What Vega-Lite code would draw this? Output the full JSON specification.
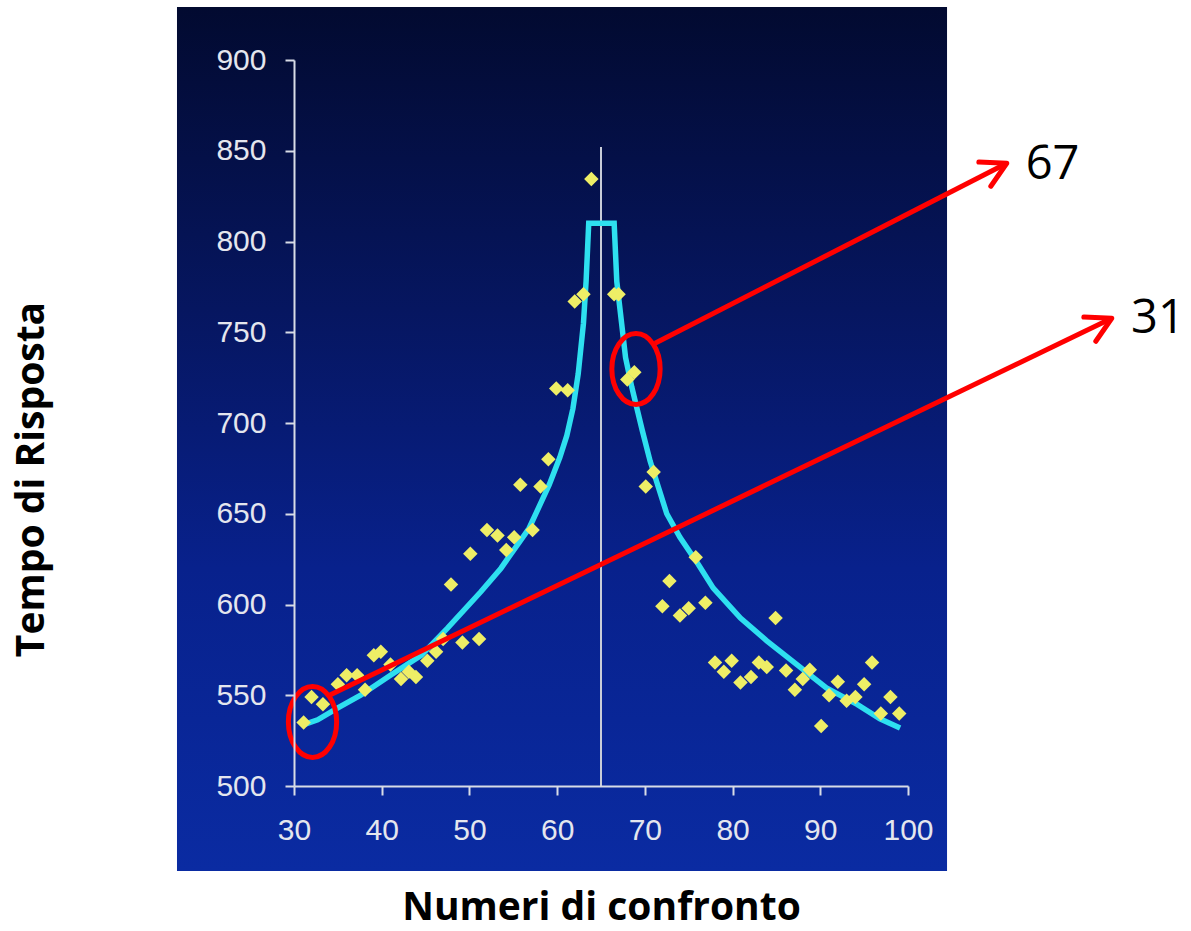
{
  "$schema": "https://vega.github.io/schema/vega-lite/v6.json",
  "autosize": {"type": "none"},
  "padding": {"left": 294, "top": 60, "right": 283, "bottom": 145},
  "width": 614,
  "height": 726,
  "background": "#ffffff",
  "config": {"view": {"stroke": null}},
  "datasets": {
    "panel": [{"x": 16.66, "x2": 104.45, "y": 453.2, "y2": 929.2}],
    "divider": [{"x": 65, "y": 500, "y2": 852}],
    "curve": [
      {"x": 31.2, "y": 534}, {"x": 32.7, "y": 536.5}, {"x": 35.0, "y": 543}, {"x": 37.6, "y": 550},
      {"x": 41.0, "y": 561}, {"x": 44.5, "y": 572}, {"x": 47.5, "y": 587}, {"x": 51.3, "y": 607},
      {"x": 53.6, "y": 620}, {"x": 56.8, "y": 642}, {"x": 59.1, "y": 666}, {"x": 60.3, "y": 681},
      {"x": 61.1, "y": 693}, {"x": 61.8, "y": 708}, {"x": 62.4, "y": 727}, {"x": 63.0, "y": 755},
      {"x": 63.3, "y": 778}, {"x": 63.6, "y": 810}, {"x": 66.5, "y": 810}, {"x": 66.8, "y": 778},
      {"x": 67.8, "y": 736}, {"x": 68.5, "y": 720}, {"x": 69.7, "y": 696}, {"x": 70.6, "y": 679},
      {"x": 72.5, "y": 650}, {"x": 74.0, "y": 637}, {"x": 76.1, "y": 622}, {"x": 77.8, "y": 609},
      {"x": 80.9, "y": 592.5}, {"x": 83.9, "y": 580}, {"x": 87.3, "y": 567}, {"x": 90.7, "y": 554},
      {"x": 94.2, "y": 545}, {"x": 96.8, "y": 537}, {"x": 99.1, "y": 532}
    ],
    "trials": [
      {"x": 31.1, "y": 535}, {"x": 32.0, "y": 549}, {"x": 33.3, "y": 545}, {"x": 35.0, "y": 556},
      {"x": 36.0, "y": 561}, {"x": 37.2, "y": 561}, {"x": 38.1, "y": 553}, {"x": 39.1, "y": 572},
      {"x": 39.9, "y": 574}, {"x": 41.0, "y": 567}, {"x": 42.2, "y": 559}, {"x": 43.1, "y": 563},
      {"x": 43.9, "y": 560}, {"x": 45.2, "y": 569}, {"x": 46.2, "y": 574}, {"x": 47.0, "y": 581},
      {"x": 47.9, "y": 611}, {"x": 49.2, "y": 579}, {"x": 50.1, "y": 628}, {"x": 51.1, "y": 581},
      {"x": 52.0, "y": 641}, {"x": 53.2, "y": 638}, {"x": 54.2, "y": 630}, {"x": 55.1, "y": 637},
      {"x": 55.8, "y": 666}, {"x": 57.2, "y": 641}, {"x": 58.1, "y": 665}, {"x": 59.0, "y": 680},
      {"x": 59.9, "y": 719}, {"x": 61.2, "y": 718}, {"x": 62.0, "y": 767}, {"x": 63.0, "y": 771},
      {"x": 63.9, "y": 834.5}, {"x": 66.5, "y": 771}, {"x": 67.0, "y": 771}, {"x": 68.0, "y": 724},
      {"x": 68.8, "y": 728}, {"x": 70.1, "y": 665}, {"x": 71.0, "y": 673}, {"x": 72.0, "y": 599},
      {"x": 72.8, "y": 613}, {"x": 74.0, "y": 594}, {"x": 75.0, "y": 598}, {"x": 75.8, "y": 626},
      {"x": 76.9, "y": 601}, {"x": 78.0, "y": 568}, {"x": 79.0, "y": 563}, {"x": 79.9, "y": 569},
      {"x": 80.9, "y": 557}, {"x": 82.1, "y": 560}, {"x": 83.0, "y": 568}, {"x": 83.9, "y": 565.5},
      {"x": 84.9, "y": 592.5}, {"x": 86.1, "y": 563.6}, {"x": 87.1, "y": 553}, {"x": 88.0, "y": 559},
      {"x": 88.8, "y": 564}, {"x": 90.1, "y": 533}, {"x": 91.0, "y": 550}, {"x": 92.0, "y": 557.5},
      {"x": 93.0, "y": 547}, {"x": 94.0, "y": 549}, {"x": 95.0, "y": 556}, {"x": 95.9, "y": 568},
      {"x": 96.9, "y": 540}, {"x": 98.0, "y": 549}, {"x": 99.0, "y": 540}
    ],
    "circles": [{"x": 32.11, "y": 535.3}, {"x": 68.99, "y": 729.8}],
    "arrows": [
      {"x": 71.16, "y": 743.9, "x2": 111.26, "y2": 843.1},
      {"x": 34.10, "y": 550.1, "x2": 123.23, "y2": 757.7}
    ],
    "heads": [{"x": 111.26, "y": 843.1}, {"x": 123.23, "y": 757.7}],
    "labels": [{"x": 116.48, "y": 842.4, "label": "67"}, {"x": 128.5, "y": 757.3, "label": "31"}]
  },
  "encoding": {
    "x": {
      "field": "x", "type": "quantitative",
      "scale": {"domain": [30, 100], "nice": false, "zero": false},
      "axis": {
        "values": [30, 40, 50, 60, 70, 80, 90, 100],
        "title": "Numeri di confronto",
        "titleFont": "Open Sans", "titleFontWeight": "bold", "titleFontSize": 39, "titleColor": "#000000",
        "titleY": 133, "titleBaseline": "alphabetic",
        "labelFont": "Liberation Sans", "labelFontSize": 30, "labelFlush": false, "labelOverlap": false,
        "labelColor": "#e4e6ee", "labelPadding": 20, "labelAngle": 0,
        "domainColor": "#d8dce6", "domainWidth": 2, "tickColor": "#d8dce6", "tickWidth": 2, "tickSize": 9,
        "grid": false, "zindex": 1
      }
    },
    "y": {
      "field": "y", "type": "quantitative",
      "scale": {"domain": [500, 900], "nice": false, "zero": false},
      "axis": {
        "values": [500, 550, 600, 650, 700, 750, 800, 850, 900],
        "title": "Tempo di Risposta",
        "titleFont": "Open Sans", "titleFontWeight": "bold", "titleFontSize": 39, "titleColor": "#000000",
        "titleX": -263, "titleY": 419, "titleBaseline": "middle", "titleAngle": -90,
        "labelFont": "Liberation Sans", "labelFontSize": 30, "labelFlush": false, "labelOverlap": false,
        "labelColor": "#e4e6ee", "labelPadding": 19,
        "domainColor": "#d8dce6", "domainWidth": 2, "tickColor": "#d8dce6", "tickWidth": 2, "tickSize": 9,
        "grid": false, "zindex": 1
      }
    }
  },
  "layer": [
    {
      "data": {"name": "panel"},
      "mark": {"type": "rect", "fill": {"gradient": "linear", "x1": 0, "y1": 0, "x2": 0, "y2": 1,
        "stops": [
          {"offset": 0, "color": "#020a30"},
          {"offset": 0.35, "color": "#061660"},
          {"offset": 0.65, "color": "#08218c"},
          {"offset": 1, "color": "#0a2ba2"}
        ]}},
      "encoding": {"x2": {"field": "x2"}, "y2": {"field": "y2"}}
    },
    {
      "data": {"name": "divider"},
      "mark": {"type": "rule", "color": "#c8ccd8", "strokeWidth": 2},
      "encoding": {"y2": {"field": "y2"}}
    },
    {
      "data": {"name": "curve"},
      "mark": {"type": "line", "color": "#2ee0f0", "strokeWidth": 5.5},
      "encoding": {}
    },
    {
      "data": {"name": "trials"},
      "mark": {"type": "point", "shape": "diamond", "filled": true, "color": "#eeee66", "size": 210, "opacity": 1},
      "encoding": {}
    },
    {
      "data": {"name": "circles"},
      "mark": {"type": "point", "filled": false, "stroke": "#ff0000", "strokeWidth": 5, "opacity": 1, "size": 5041,
        "shape": "M0,-1C0.374,-1,0.68,-0.552,0.68,0C0.68,0.552,0.374,1,0,1C-0.374,1,-0.68,0.552,-0.68,0C-0.68,-0.552,-0.374,-1,0,-1Z"},
      "encoding": {}
    },
    {
      "data": {"name": "arrows"},
      "mark": {"type": "rule", "color": "#ff0000", "strokeWidth": 5},
      "encoding": {"x2": {"field": "x2"}, "y2": {"field": "y2"}}
    },
    {
      "data": {"name": "heads"},
      "mark": {"type": "point", "filled": false, "stroke": "#ff0000", "strokeWidth": 5, "opacity": 1, "size": 2401,
        "strokeCap": "round", "strokeJoin": "round", "angle": -26.4,
        "shape": "M-1,-0.55L0,0L-1,0.55"},
      "encoding": {}
    },
    {
      "data": {"name": "labels"},
      "mark": {"type": "text", "font": "Open Sans", "fontSize": 47, "color": "#000000", "align": "center", "baseline": "middle"},
      "encoding": {"text": {"field": "label"}}
    }
  ]
}
